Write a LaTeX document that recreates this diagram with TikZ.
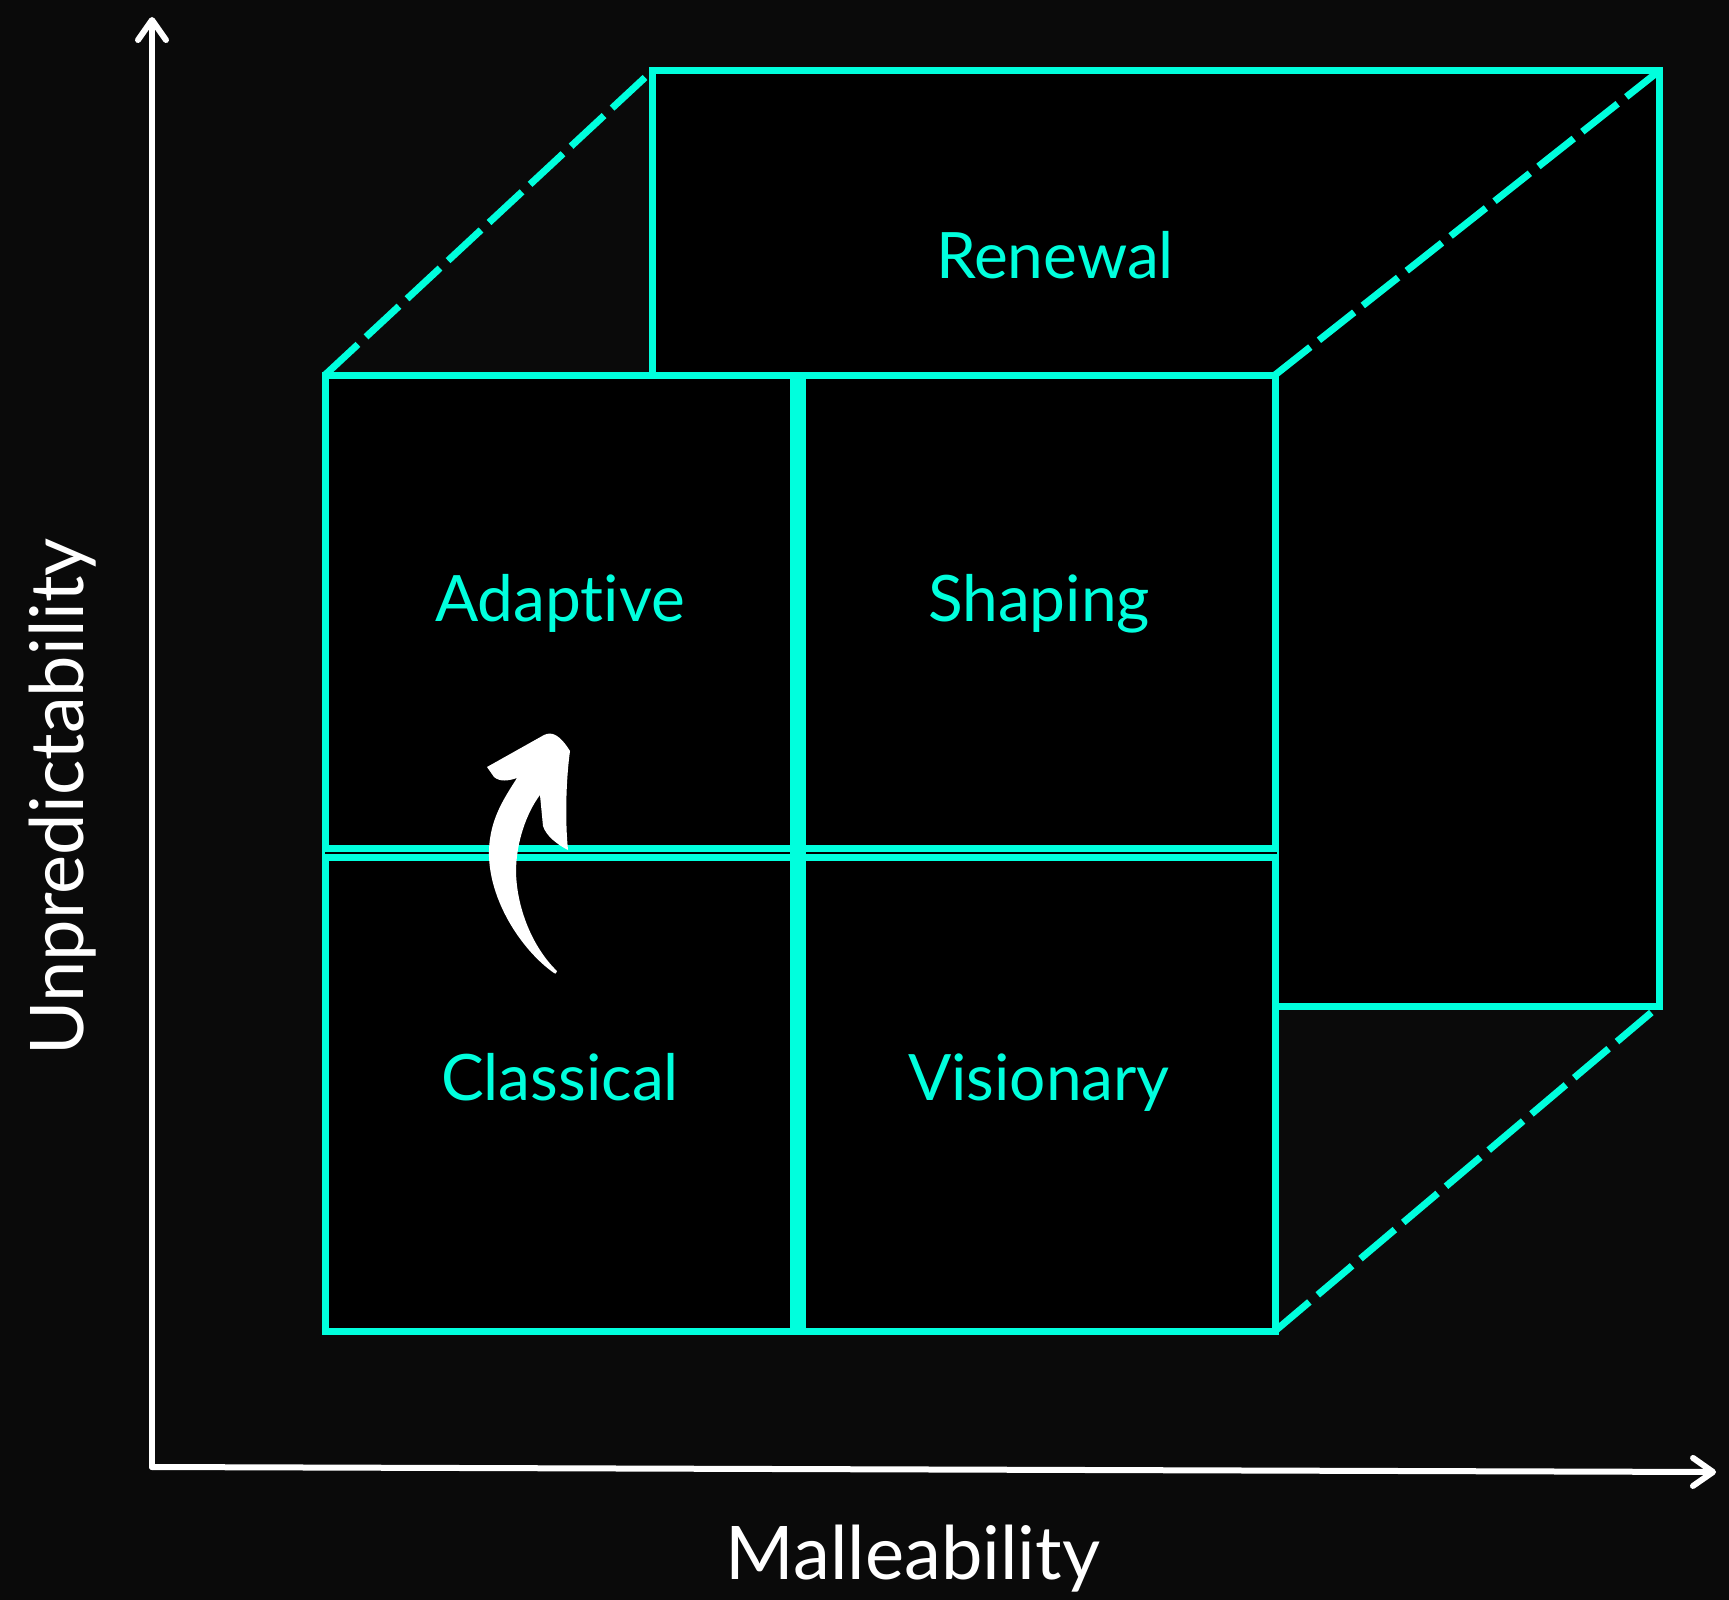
\documentclass[tikz,border=0pt]{standalone}
\usepackage{fontspec}
\setmainfont{Lato}[Ligatures={NoCommon}]
\usetikzlibrary{arrows.meta}
\definecolor{bg}{HTML}{0A0A0A}
\definecolor{cy}{RGB}{0,255,221}
\begin{document}
\begin{tikzpicture}[x=1pt,y=-1pt,
  face/.style={draw=cy,fill=black,line width=7pt},
  dashline/.style={draw=cy,line width=7pt,dash pattern=on 45pt off 11pt},
  midline/.style={draw=cy,line width=16pt},
  lab/.style={text=cy,font=\fontsize{64}{76}\selectfont,inner sep=0pt,anchor=base},
  axislab/.style={text=white,font=\fontsize{74}{88}\selectfont,inner sep=0pt,anchor=base},
  axis/.style={draw=white,line width=6pt,line cap=round,-{Straight Barb[length=20pt,width=28pt,round]}}]
\fill[bg] (0,0) rectangle (1729,1600);
\useasboundingbox (0,0) rectangle (1729,1600);
% axes
\coordinate (o) at (152,1467);
\coordinate (ytip) at (152,17);
\coordinate (xtip) at (1716,1472);
\draw[axis] (o) -- (ytip);
\draw[axis] (o) -- (xtip);
% back face
\coordinate (b1) at (652,71);
\coordinate (b2) at (1659,71);
\coordinate (b3) at (1659,1006);
\path[face] (b1) rectangle (b3);
% front face
\coordinate (f1) at (325,375);
\coordinate (f2) at (1275,375);
\coordinate (f3) at (1275,1331);
\coordinate (f4) at (325,1331);
\path[face] (f1) rectangle (f3);
% middle lines
\coordinate (hl) at (325,853);
\coordinate (hr) at (1277,853);
\coordinate (vt) at (798,375);
\coordinate (vb) at (798,1331);
\path[midline] (hl) -- (hr);
\draw[black,line width=1.2pt] (hl) -- (hr);
\path[midline] (vt) -- (vb);
% dashed edges
\path[dashline] (f1) -- (b1);
\path[dashline] (f2) -- (b2);
\path[dashline] (f3) -- (b3);
% labels
\node[lab] (ren) at (1055,278) {Renewal};
\node[lab] (ada) at (560,621) {Adaptive};
\node[lab] (sha) at (1039,621) {Shaping};
\node[lab] (cla) at (560,1100) {Classical};
\node[lab] (vis) at (1039,1100) {Visionary};
\node[axislab] (mal) at (913,1579) {Malleability};
\node[axislab,rotate=90] (unp) at (83,797) {Unpredictability};
% white curved arrow
\fill[white] (554,973) .. controls (524,952) and (491,905) .. (489,857)
 .. controls (488,822) and (503,800) .. (517,778)
 .. controls (508,781) and (500,782) .. (494,777)
 -- (487,767)
 -- (544,735) .. controls (552,731) and (560,735) .. (570,751)
 .. controls (566,780) and (565,820) .. (568,850)
 .. controls (558,845) and (546,836) .. (543,826)
 -- (540,795)
 .. controls (527,812) and (516,842) .. (516,872)
 .. controls (517,912) and (535,950) .. (557,971)
 .. controls (556,974) and (555,974) .. cycle;
\end{tikzpicture}
\end{document}
